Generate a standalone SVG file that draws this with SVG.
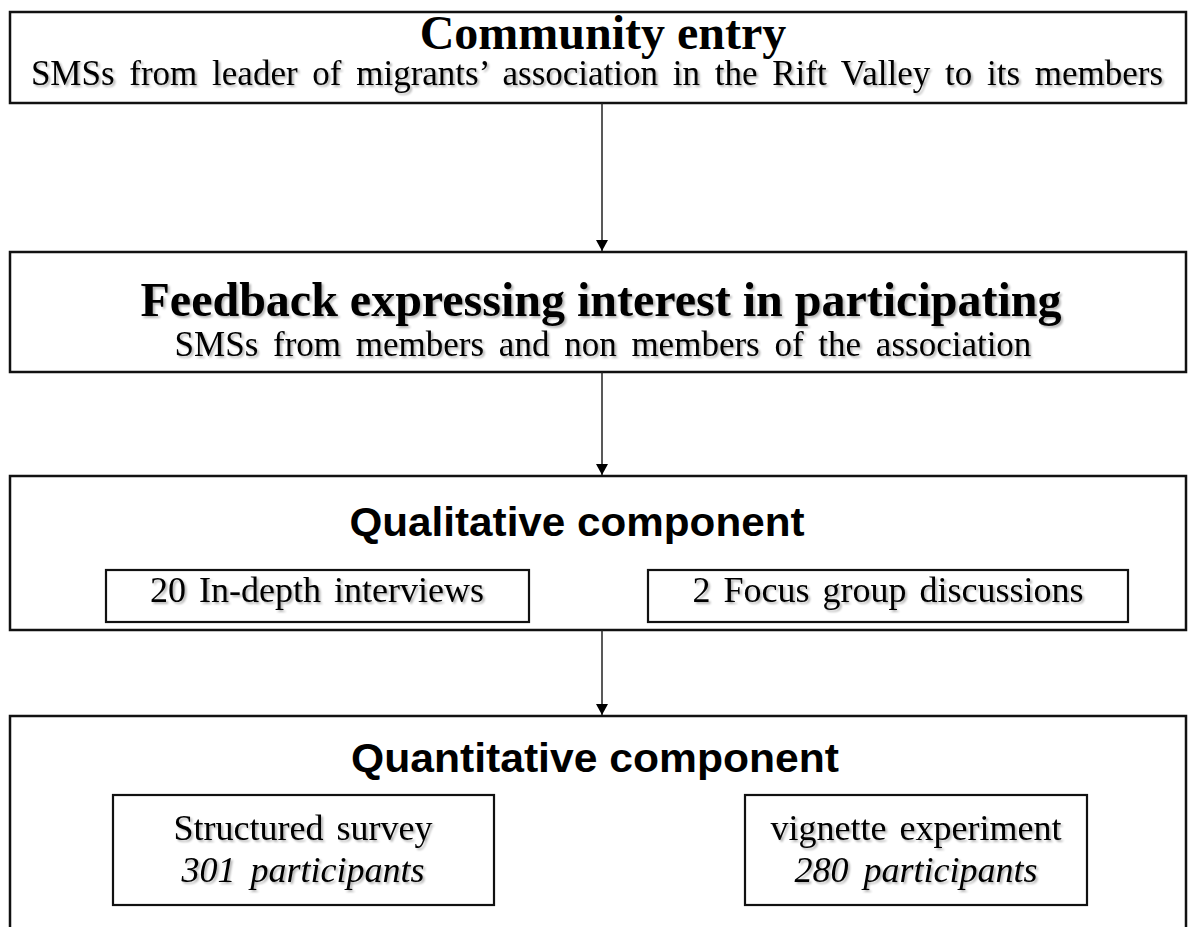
<svg xmlns="http://www.w3.org/2000/svg" width="1194" height="927" viewBox="0 0 1194 927">
<defs>
<marker id="ah" viewBox="0 0 12 13" refX="12" refY="6.5" markerWidth="13" markerHeight="12" markerUnits="userSpaceOnUse" orient="auto">
<path d="M0,0 L12,6.5 L0,13 z" fill="#000"/>
</marker>
<filter id="sh" x="-5%" y="-20%" width="110%" height="140%">
<feGaussianBlur in="SourceAlpha" stdDeviation="1.2"/>
<feOffset dx="1.5" dy="1.5" result="b"/>
<feComponentTransfer><feFuncA type="linear" slope="0.3"/></feComponentTransfer>
<feMerge><feMergeNode/><feMergeNode in="SourceGraphic"/></feMerge>
</filter>
</defs>
<style>
.box{fill:#fff;stroke:#111;stroke-width:2.5}
.ibox{fill:#fff;stroke:#111;stroke-width:2.2}
.serif{font-family:"Liberation Serif","Times New Roman",serif;fill:#000;text-anchor:middle}
.sans{font-family:"Liberation Sans",Arial,sans-serif;font-weight:bold;fill:#000;text-anchor:middle;font-size:41px}
.t{font-weight:bold;font-size:48px}
.s{font-size:35px;word-spacing:6px}
.i{font-size:36px;word-spacing:4px}
.it{font-style:italic;word-spacing:6px}
.con{stroke:#222;stroke-width:1.5;fill:none}
</style>
<rect width="1194" height="927" fill="#fff"/>
<g id="n1">
<rect class="box" x="10" y="12" width="1176" height="91"/>
<text class="serif t" x="603" y="49">Community entry</text>
<text class="serif s" x="597" y="85" filter="url(#sh)">SMSs from leader of migrants’ association in the Rift Valley to its members</text>
</g>
<g id="n2">
<rect class="box" x="10" y="252" width="1176" height="120"/>
<text class="serif t" x="601" y="316" filter="url(#sh)">Feedback expressing interest in participating</text>
<text class="serif s" x="603" y="356" filter="url(#sh)">SMSs from members and non members of the association</text>
</g>
<g id="n3">
<rect class="box" x="10" y="476" width="1176" height="154"/>
<text class="sans" x="577" y="536" textLength="455" lengthAdjust="spacingAndGlyphs">Qualitative component</text>
<g id="n3a">
<rect class="ibox" x="106" y="570" width="423" height="52"/>
<text class="serif i" x="317" y="602" filter="url(#sh)">20 In-depth interviews</text>
</g>
<g id="n3b">
<rect class="ibox" x="648" y="570" width="480" height="52"/>
<text class="serif i" x="888" y="602" filter="url(#sh)">2 Focus group discussions</text>
</g>
</g>
<g id="n4">
<path class="box" d="M10,940 V716 H1186 V940"/>
<text class="sans" x="595" y="772" textLength="488" lengthAdjust="spacingAndGlyphs">Quantitative component</text>
<g id="n4a">
<rect class="ibox" x="113" y="795" width="381" height="110"/>
<text class="serif i" x="303" y="840" filter="url(#sh)">Structured survey</text>
<text class="serif i it" x="303" y="882" filter="url(#sh)">301 participants</text>
</g>
<g id="n4b">
<rect class="ibox" x="745" y="795" width="342" height="110"/>
<text class="serif i" x="916" y="840" filter="url(#sh)">vignette experiment</text>
<text class="serif i it" x="916" y="882" filter="url(#sh)">280 participants</text>
</g>
</g>
<g id="connectors">
<line class="con" x1="602" y1="103" x2="602" y2="251" marker-end="url(#ah)"/>
<line class="con" x1="602" y1="372" x2="602" y2="475" marker-end="url(#ah)"/>
<line class="con" x1="602" y1="630" x2="602" y2="715" marker-end="url(#ah)"/>
</g>
</svg>
